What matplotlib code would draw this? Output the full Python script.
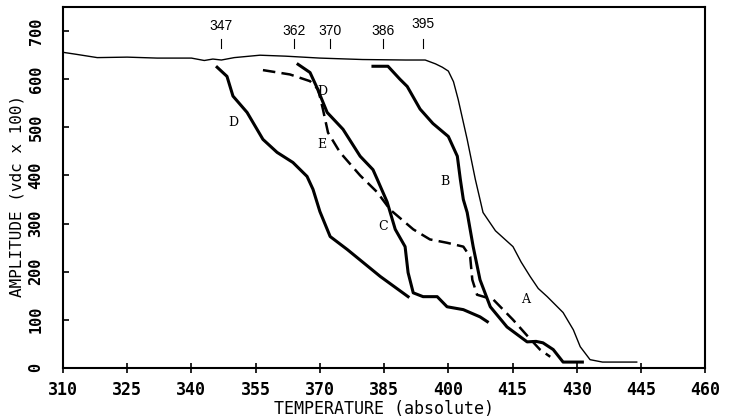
import matplotlib.pyplot as plt

# curve data (temperature, amplitude)
a_temp = [310, 313, 318, 325, 332, 340, 343, 345, 347, 350, 356, 362, 370, 380, 390, 394.6, 397, 398.6,
          400, 401.2, 402.3, 404.4, 406.3, 407.4, 408.1, 411, 415.1, 417, 419.1, 421, 423.1, 426.8,
          429.2, 430.8, 433.1, 436, 440, 444]
a_amp = [656, 652, 645, 646, 644, 644, 639, 642, 640, 645, 650, 648, 644, 641, 640, 640, 632, 625,
         617, 595, 558, 475, 392, 350, 323, 285, 252, 220, 190, 165, 148, 115,
         79, 44, 17, 12, 12, 12]

b_temp = [382.4, 385.9, 388.7, 390.4, 393.4, 396.4, 400.0, 402.1, 402.8, 403.5, 404.4, 405.8, 407.4,
          409.8, 413.7, 418.4, 420.5, 422.1, 424.5, 426.8, 431.3]
b_amp = [627, 627, 600, 585, 538, 508, 481, 440, 392, 350, 323, 252, 183,
         127, 85, 54, 55, 52, 38, 12, 12]

c_temp = [364.9, 367.7, 369.3, 371.7, 375.4, 379.4, 382.4, 383.4, 385.7, 387.6, 389.9, 390.6, 391.8,
          394.1, 397.4, 399.7, 403.5, 407.4, 409.1]
c_amp = [631, 614, 583, 531, 496, 440, 412, 392, 345, 288, 252, 198, 156,
         148, 148, 127, 121, 106, 96]

d_temp = [346, 348.3, 349.7, 353.0, 356.7, 360.0, 363.7, 367.0, 368.4, 370.0, 372.4, 376.4, 384.1, 390.6]
d_amp = [625, 606, 565, 531, 475, 448, 427, 398, 371, 325, 273, 246, 190, 148]

e_temp = [356.7, 363.0, 367.7, 369.6, 370.7, 371.9, 374.7, 379.4, 383.4, 386.4, 391.8, 395.7, 399.7,
          403.5, 405.1, 405.6, 406.7, 410.5, 415.1, 418.6, 421.4, 423.8]
e_amp = [619, 610, 596, 579, 538, 489, 448, 400, 365, 329, 288, 267, 260,
         252, 231, 183, 152, 142, 100, 65, 38, 23]

# transition temperatures marked along the top
mark_labels = ['347', '362', '370', '386', '395']
mark_temp = [347, 364, 372.4, 384.7, 394]

fig = plt.figure(figsize=(7.29, 4.18), dpi=100)
ax = fig.add_axes([0.0864, 0.12, 0.881, 0.863])

ax.plot(a_temp, a_amp, color='black', lw=1.0)
ax.plot(b_temp, b_amp, color='black', lw=2.2)
ax.plot(c_temp, c_amp, color='black', lw=2.2)
ax.plot(d_temp, d_amp, color='black', lw=2.2)
ax.plot(e_temp, e_amp, color='black', lw=1.8, linestyle=(0, (5, 2.5)))

lab = dict(fontsize=9, family='DejaVu Serif', ha='center', va='center')
ax.text(349.7, 510, 'D', **lab)
ax.text(370.5, 465, 'E', **lab)
ax.text(399.3, 387, 'B', **lab)
ax.text(384.8, 294, 'C', **lab)
ax.text(418, 142, 'A', **lab)
ax.text(370.5, 575, 'D', **lab)

label_y = [710, 700, 700, 700, 715]
for t, s, ly in zip(mark_temp, mark_labels, label_y):
    ax.plot([t, t], [666, 684], color='black', lw=0.8)
    ax.text(t, ly, s, fontsize=10, family='Liberation Sans', ha='center', va='center')

ax.set_xlim(310, 460)
ax.set_ylim(0, 750)
ax.set_xticks(range(310, 461, 15))
ax.set_yticks(range(0, 701, 100))
for sp in ax.spines.values():
    sp.set_linewidth(1.5)

ax.tick_params(axis='x', direction='inout', length=7, width=1.2, pad=6)
ax.tick_params(axis='y', direction='in', length=4, width=1.2, pad=14)
for t in ax.get_xticklabels():
    t.set_fontfamily('DejaVu Sans Mono')
    t.set_fontweight('bold')
    t.set_fontsize(12)
for t in ax.get_yticklabels():
    t.set_fontfamily('DejaVu Sans Mono')
    t.set_fontweight('bold')
    t.set_fontsize(11)
    t.set_rotation(90)
    t.set_va('center')

ax.set_xlabel('TEMPERATURE (absolute)', fontsize=12, family='DejaVu Sans Mono')
ax.xaxis.set_label_coords(0.5, -0.088)
ax.set_ylabel('AMPLITUDE (vdc x 100)', fontsize=11.5, family='DejaVu Sans Mono', va='center')
ax.yaxis.set_label_coords(-0.072, 0.476)

fig.savefig('out.png', dpi=100)
